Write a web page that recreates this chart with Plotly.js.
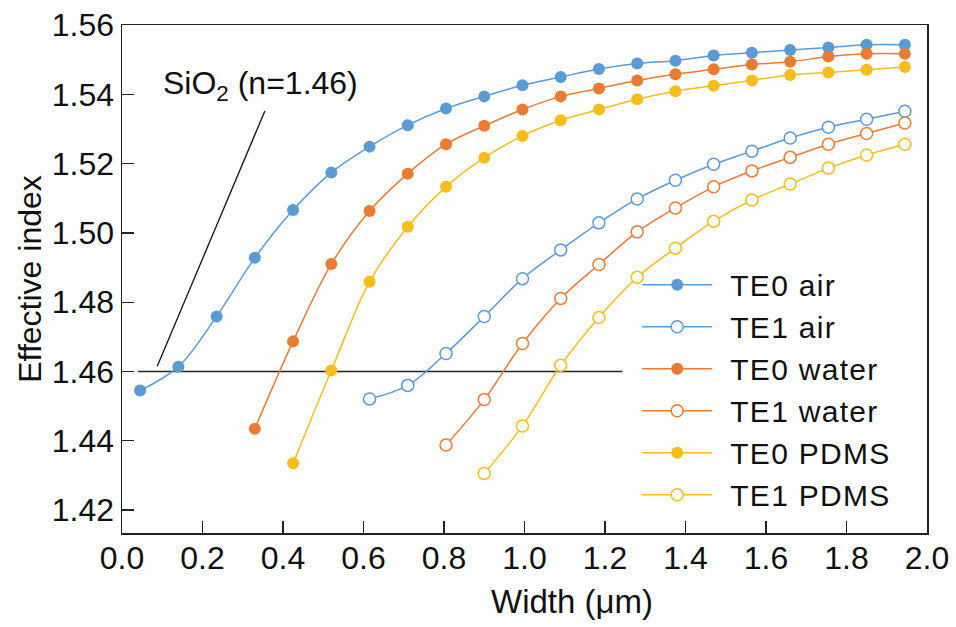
<!DOCTYPE html>
<html>
<head>
<meta charset="utf-8">
<script src="https://cdn.plot.ly/plotly-3.0.1.min.js"></script>
<style>
html,body{margin:0;padding:0;background:#fff}
#chart{width:956px;height:627px}
#chart .legend .scrollbox{clip-path:none !important}
#chart .legendtext{letter-spacing:1.3px;transform:translateX(13px)}
</style>
</head>
<body>
<div id="chart"></div>
<script>
// Waveguide widths (µm)
const widths = [0.045, 0.14, 0.235, 0.33, 0.425, 0.52, 0.615, 0.71, 0.805, 0.90, 0.995,
                1.09, 1.185, 1.28, 1.375, 1.47, 1.565, 1.66, 1.755, 1.85, 1.945];

const te0AirX = widths.slice(0);
const te0AirY = [1.4545, 1.4614, 1.4759, 1.4928, 1.5066, 1.5174, 1.5249, 1.5311, 1.5359, 1.5394, 1.5426,
                 1.5450, 1.5473, 1.5489, 1.5497, 1.5512, 1.5520, 1.5528, 1.5535, 1.5543, 1.5543];

const te1AirX = widths.slice(6);
const te1AirY = [1.4521, 1.4560, 1.4652, 1.4759, 1.4868, 1.4951, 1.5029, 1.5098, 1.5152, 1.5198,
                 1.5236, 1.5274, 1.5305, 1.5328, 1.5351];

const te0WaterX = widths.slice(3);
const te0WaterY = [1.4435, 1.4687, 1.4910, 1.5063, 1.5171, 1.5256, 1.5309, 1.5356, 1.5394, 1.5417,
                   1.5440, 1.5458, 1.5472, 1.5486, 1.5494, 1.5509, 1.5517, 1.5517];

const te1WaterX = widths.slice(8);
const te1WaterY = [1.4388, 1.4519, 1.4681, 1.4811, 1.4909, 1.5003, 1.5072, 1.5133, 1.5179, 1.5218,
                   1.5256, 1.5287, 1.5317];

const te0PdmsX = widths.slice(4);
const te0PdmsY = [1.4335, 1.4603, 1.4859, 1.5018, 1.5133, 1.5217, 1.5280, 1.5325, 1.5356, 1.5386,
                  1.5409, 1.5425, 1.5440, 1.5456, 1.5463, 1.5471, 1.5479];

const te1PdmsX = widths.slice(9);
const te1PdmsY = [1.4306, 1.4443, 1.4618, 1.4756, 1.4872, 1.4956, 1.5034, 1.5095, 1.5141, 1.5187,
                  1.5225, 1.5256];

// SiO2 reference line and label pointer
const sio2LineX = [0.04, 1.243];
const sio2LineY = [1.46, 1.46];
const pointerX = [0.0875, 0.355];
const pointerY = [1.4615, 1.5352];
const sio2Label = 'SiO<sub>2</sub> (n=1.46)';
const sio2LabelX = 0.097;
const sio2LabelY = 1.5424;

const names = ['TE0 air', 'TE1 air', 'TE0 water', 'TE1 water', 'TE0 PDMS', 'TE1 PDMS'];
const xTickVals = [0, 0.2, 0.4, 0.6, 0.8, 1.0, 1.2, 1.4, 1.6, 1.8, 2.0];
const yTickVals = [1.42, 1.44, 1.46, 1.48, 1.50, 1.52, 1.54, 1.56];

const BLUE = '#5B9BD5', ORANGE = '#E97B33', GOLD = '#F7BD1D';
const FONT = '"Liberation Sans", Arial, Helvetica, sans-serif';

function series(x, y, name, color, filled) {
  return {
    x: x, y: y, name: name, type: 'scatter', mode: 'lines+markers',
    line: {color: color, width: 1.5, shape: 'spline', smoothing: 1},
    marker: {
      size: 12, color: filled ? color : '#ffffff',
      line: {color: color, width: filled ? 0 : 1.5}
    }
  };
}

const traces = [
  {x: sio2LineX, y: sio2LineY, mode: 'lines', line: {color: '#222', width: 1.3}, showlegend: false, hoverinfo: 'skip'},
  {x: pointerX, y: pointerY, mode: 'lines', line: {color: '#111', width: 1.3}, showlegend: false, hoverinfo: 'skip'},
  series(te0AirX, te0AirY, names[0], BLUE, true),
  series(te1AirX, te1AirY, names[1], BLUE, false),
  series(te0WaterX, te0WaterY, names[2], ORANGE, true),
  series(te1WaterX, te1WaterY, names[3], ORANGE, false),
  series(te0PdmsX, te0PdmsY, names[4], GOLD, true),
  series(te1PdmsX, te1PdmsY, names[5], GOLD, false)
];

const axisCommon = {
  showline: true, mirror: true, linecolor: '#222', linewidth: 1.5,
  ticks: 'inside', ticklen: 12, tickwidth: 1.3, tickcolor: '#222',
  showgrid: false, zeroline: false,
  tickfont: {family: FONT, size: 32, color: '#111'}
};

const layout = {
  width: 956, height: 627,
  margin: {l: 122, r: 29, t: 25, b: 94},
  paper_bgcolor: '#fff', plot_bgcolor: '#fff',
  font: {family: FONT, size: 32, color: '#111'},
  xaxis: Object.assign({}, axisCommon, {
    range: [0, 2.0], tickvals: xTickVals, tickformat: '.1f', ticklabelstandoff: -4
  }),
  yaxis: Object.assign({}, axisCommon, {
    range: [1.4134, 1.56], tickvals: yTickVals, tickformat: '.2f',
    title: {text: 'Effective index', font: {family: FONT, size: 32, color: '#111'}, standoff: 0}
  }),
  legend: {
    x: 0.64, xanchor: 'left', y: 0.282, yanchor: 'middle',
    bgcolor: 'rgba(0,0,0,0)', borderwidth: 0,
    font: {family: FONT, size: 30, color: '#111'},
    itemwidth: 70, tracegroupgap: 0
  },
  annotations: [
    {x: sio2LabelX, y: sio2LabelY, xref: 'x', yref: 'y', text: sio2Label, showarrow: false,
     xanchor: 'left', yanchor: 'middle', font: {family: FONT, size: 32, color: '#111'}},
    {x: 0.5585, y: -0.135, xref: 'paper', yref: 'paper', text: 'Width (μm)', showarrow: false,
     xanchor: 'center', yanchor: 'middle', font: {family: FONT, size: 33, color: '#111'}}
  ]
};

Plotly.newPlot('chart', traces, layout, {displayModeBar: false, staticPlot: true});
</script>
</body>
</html>
